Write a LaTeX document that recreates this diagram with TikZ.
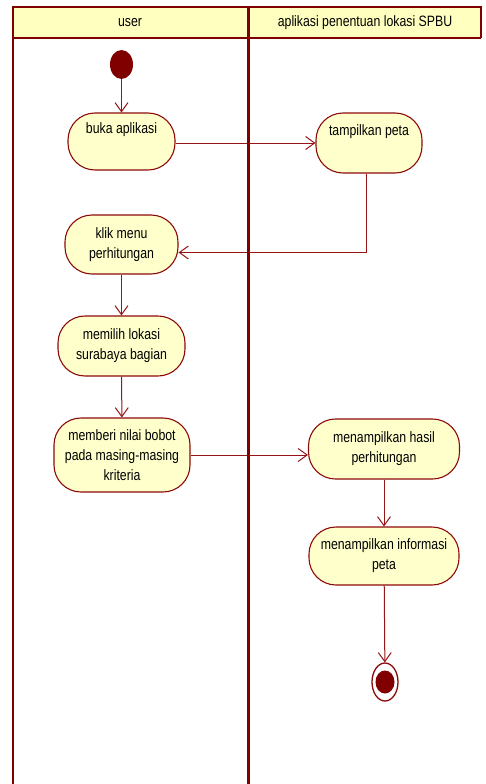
\documentclass[tikz,border=0pt]{standalone}
\usepackage{fontspec}
\setmainfont[FakeStretch=0.82]{Liberation Sans}
\usetikzlibrary{arrows.meta,shapes.geometric}
\definecolor{lanecol}{RGB}{128,0,0}
\definecolor{edgecol}{RGB}{150,20,20}
\definecolor{nodecol}{RGB}{140,10,10}
\definecolor{nodefill}{RGB}{255,255,204}
\definecolor{headfill}{RGB}{255,255,192}
\tikzset{
  act/.style={draw=nodecol, line width=1.1pt, fill=nodefill, rounded corners=27pt,
    align=center, inner sep=0pt, text=black},
  flow/.style={draw=edgecol, line width=1pt, -{Straight Barb[length=9pt,width=13pt]}},
  lane/.style={draw=lanecol, line width=2.4pt},
  lanetext/.style={inner sep=0pt, text=black}
}
\begin{document}
\begin{tikzpicture}[x=1pt,y=-1pt,font=\fontsize{15}{20}\selectfont]
\useasboundingbox (0,0) rectangle (485,784);
% swimlanes
\fill[headfill] (13,7) rectangle (481,38);
\draw[lane] (13,784) -- (13,7) -- (481,7) -- (481,38);
\draw[lane] (13,38) -- (481,38);
\node[lanetext] (lu) at (130,23) {user};
\node[lanetext] (la) at (365,23) {aplikasi penentuan lokasi SPBU};
% nodes
\node[ellipse, fill=lanecol, minimum width=23pt, minimum height=29pt, inner sep=0pt] (start) at (121.5,64.5) {};
\node[act, minimum width=107pt, minimum height=57pt] (buka) at (121.5,141.5) {buka aplikasi\\\strut};
\node[act, minimum width=106pt, minimum height=60pt] (tampil) at (369,143) {tampilkan peta\\\strut};
\node[act, minimum width=113pt, minimum height=59pt] (klik) at (121.5,244.5) {klik menu\\perhitungan};
\node[act, minimum width=127pt, minimum height=60pt] (pilih) at (121.5,346) {memilih lokasi\\surabaya bagian};
\node[act, minimum width=136pt, minimum height=74pt] (bobot) at (122,455) {memberi nilai bobot\\pada masing-masing\\kriteria};
\node[act, minimum width=151pt, minimum height=60pt] (hasil) at (384,449) {menampilkan hasil\\perhitungan};
\node[act, minimum width=150pt, minimum height=58pt] (info) at (384,556) {menampilkan informasi\\peta};
\node[ellipse, draw=nodecol, line width=1.3pt, fill=white, minimum width=26pt, minimum height=38pt, inner sep=0pt] (end) at (385,682) {};
\node[ellipse, fill=lanecol, minimum width=19pt, minimum height=23pt, inner sep=0pt] (endin) at (end.center) {};
% flows
\draw[flow] (start) -- (buka);
\draw[flow] (buka.east |- tampil.west) -- (tampil.west);
\draw[flow] ([xshift=-3pt]tampil.south) -- ([xshift=-3pt,yshift=-8pt]tampil.south |- klik.east) -- ([yshift=-8pt]klik.east);
\draw[flow] (klik) -- (pilih);
\draw[flow] (pilih) -- (bobot);
\draw[flow] (bobot.east) -- (bobot.east -| hasil.west);
\draw[flow] (hasil) -- (info);
\draw[flow] (info) -- (end);
% middle lane line on top
\draw[draw=lanecol, line width=3.2pt] (248.5,7) -- (248.5,784);
\end{tikzpicture}
\end{document}
